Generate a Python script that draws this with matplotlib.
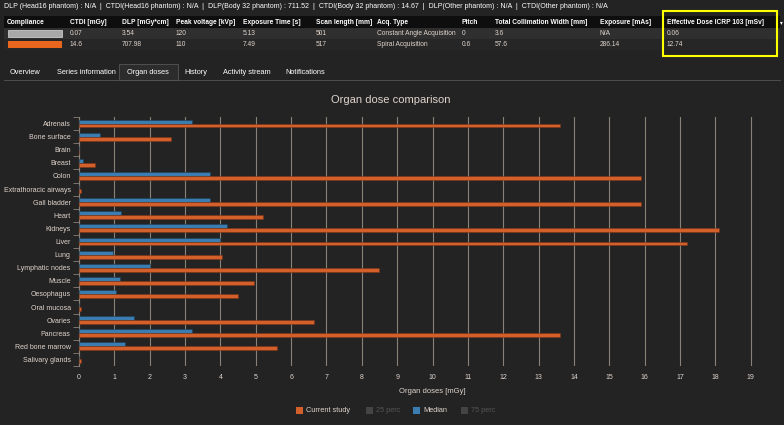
import matplotlib.pyplot as plt
import matplotlib.patches as patches
import numpy as np

plt.rcParams['font.family'] = ['Liberation Sans Narrow', 'Liberation Sans', 'DejaVu Sans']

organs = ["Adrenals", "Bone surface", "Brain", "Breast", "Colon", "Extrathoracic airways",
          "Gall bladder", "Heart", "Kidneys", "Liver", "Lung", "Lymphatic nodes", "Muscle",
          "Oesophagus", "Oral mucosa", "Ovaries", "Pancreas", "Red bone marrow", "Salivary glands"]
current = [13.6, 2.6, 0, 0.45, 15.9, 0.05, 15.9, 5.2, 18.1, 17.2, 4.05, 8.5, 4.95, 4.5, 0.05, 6.65, 13.6, 5.6, 0.05]
median = [3.2, 0.6, 0, 0.1, 3.7, 0, 3.7, 1.2, 4.2, 4.0, 0.95, 2.0, 1.15, 1.05, 0, 1.55, 3.2, 1.3, 0]

headers = ["Compliance", "CTDI [mGy]", "DLP [mGy*cm]", "Peak voltage [kVp]", "Exposure Time [s]",
           "Scan length [mm]", "Acq. Type", "Pitch", "Total Collimation Width [mm]",
           "Exposure [mAs]", "Effective Dose ICRP 103 [mSv]"]
row1 = ["", "0.07", "3.54", "120", "5.13", "501", "Constant Angle Acquisition", "0", "3.6", "N/A", "0.06"]
row2 = ["", "14.6", "707.98", "110", "7.49", "517", "Spiral Acquisition", "0.6", "57.6", "286.14", "12.74"]
col_x = [7, 70, 122, 176, 243, 316, 377, 462, 495, 600, 667]
tabs = ["Overview", "Series information", "Organ doses", "History", "Activity stream", "Notifications"]
tab_x = [10, 57, 127, 184, 223, 285]

BG = "#232323"
TXT = "#e0d4cc"
ORANGE = "#d3602b"
BLUE = "#3b7db0"
W, H = 784, 425

fig = plt.figure(figsize=(W / 100, H / 100), dpi=100, facecolor=BG)

def px(x, y):
    return x / W, 1 - y / H

def rect(x, y, w, h, **kw):
    fig.patches.append(patches.Rectangle((x / W, 1 - (y + h) / H), w / W, h / H,
                                         transform=fig.transFigure, **kw))

# top info line
fig.text(*px(4, 7), "DLP (Head16 phantom) : N/A  |  CTDI(Head16 phantom) : N/A  |  DLP(Body 32 phantom) : 711.52  |  "
         "CTDI(Body 32 phantom) : 14.67  |  DLP(Other phantom) : N/A  |  CTDI(Other phantom) : N/A",
         color="white", fontsize=5, va="center")

# table
rect(4, 16, 776, 12, facecolor="#0e0e0e")
rect(4, 28, 776, 11, facecolor="#2f2f2f")
rect(4, 39, 776, 11, facecolor="#262626")
for x, h in zip(col_x, headers):
    fig.text(*px(x, 22.5), h, color="white", fontsize=4.8, weight="bold", va="center")
for x, v in zip(col_x, row1):
    fig.text(*px(x, 33.7), v, color=TXT, fontsize=4.8, va="center")
for x, v in zip(col_x, row2):
    fig.text(*px(x, 44.5), v, color=TXT, fontsize=4.8, va="center")
rect(8, 30, 54, 7, facecolor="#a8a8a8", edgecolor="#dddddd", linewidth=0.5)
rect(8, 41, 54, 7, facecolor="#e8661e")
rect(663, 11, 114, 45, facecolor="none", edgecolor="#ffff00", linewidth=1.5)
fig.text(*px(780, 22.5), "▾", color="white", fontsize=4, va="center",
         family=["DejaVu Sans"])

# tabs
rect(119, 64, 59, 16, facecolor="#2c2c2c", edgecolor="#555555", linewidth=0.6)
fig.lines.append(plt.Line2D([4 / W, 780 / W], [1 - 80 / H] * 2, color="#555555", lw=0.6,
                            transform=fig.transFigure))
for x, t in zip(tab_x, tabs):
    fig.text(*px(x, 72), t, color="white", fontsize=5.3, va="center")

# chart
ax = fig.add_axes([79 / W, 1 - 366 / H, (786 - 79) / W, (366 - 117) / H], facecolor=BG)
y = np.arange(len(organs))
bh = 0.3
ax.barh(y - bh / 2, median, height=bh, color=BLUE, edgecolor="#1c3d57", linewidth=0.4, zorder=3)
ax.barh(y + bh / 2, current, height=bh, color=ORANGE, edgecolor="#7a3416", linewidth=0.4, zorder=3)
ax.set_ylim(len(organs) - 0.5, -0.5)
ax.set_xlim(0, 20)
ax.set_yticks(y)
ax.set_yticklabels(organs)
ax.set_yticks(np.arange(-0.5, len(organs), 1), minor=True)
ax.tick_params(axis="y", which="major", length=0, labelsize=5, labelcolor=TXT, pad=6)
ax.tick_params(axis="y", which="minor", length=4, color="#8a8078")
ax.set_xticks(range(0, 20))
ax.tick_params(axis="x", length=0, labelsize=5, labelcolor=TXT, pad=6)
ax.grid(axis="x", color="#8a8078", lw=0.8, zorder=0)
for s in ["top", "right", "bottom"]:
    ax.spines[s].set_visible(False)
ax.spines["left"].set_color("#8a8078")
ax.set_xlabel("Organ doses [mGy]", color=TXT, fontsize=5.5, labelpad=5)
fig.text(*px(391, 100), "Organ dose comparison", color=TXT, fontsize=8, ha="center", va="center")

# legend
leg = [("Current study", ORANGE, TXT), ("25 perc", "#444444", "#555555"),
       ("Median", BLUE, TXT), ("75 perc", "#444444", "#555555")]
lx = [296, 366, 413, 461]
for x, (lab, c, tc) in zip(lx, leg):
    rect(x, 407, 7, 7, facecolor=c)
    fig.text(*px(x + 10, 411), lab, color=tc, fontsize=5.3, va="center")

fig.savefig("out.png", dpi=100, facecolor=BG)
